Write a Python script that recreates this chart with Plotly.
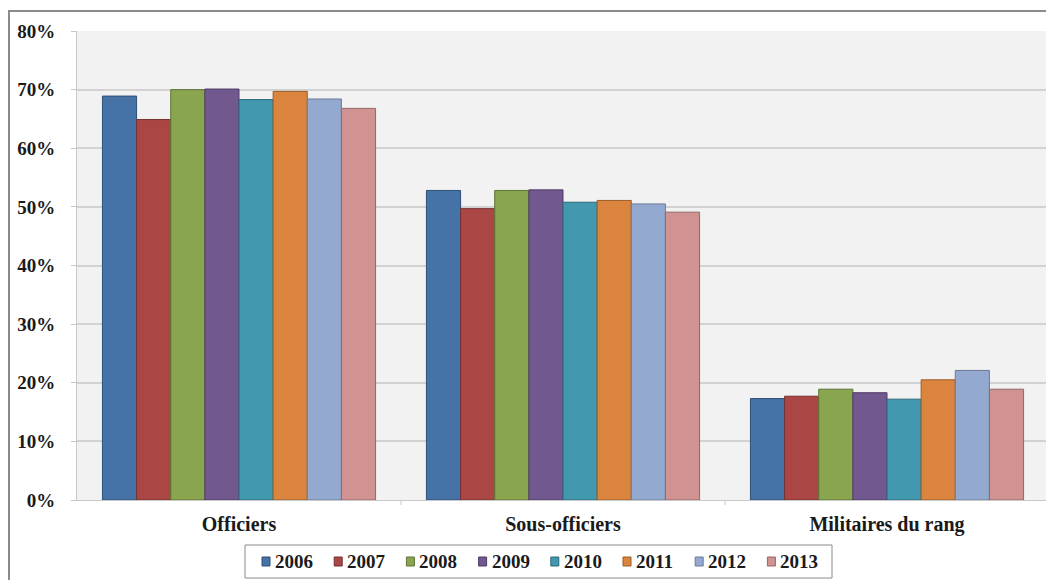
import plotly.graph_objects as go

categories = ["Officiers", "Sous-officiers", "Militaires du rang"]
years = ["2006", "2007", "2008", "2009", "2010", "2011", "2012", "2013"]
v2006 = [68.9, 52.8, 17.3]
v2007 = [64.9, 49.7, 17.7]
v2008 = [70.0, 52.8, 18.9]
v2009 = [70.1, 52.9, 18.3]
v2010 = [68.3, 50.8, 17.2]
v2011 = [69.7, 51.1, 20.5]
v2012 = [68.4, 50.5, 22.1]
v2013 = [66.8, 49.1, 18.9]
series = [v2006, v2007, v2008, v2009, v2010, v2011, v2012, v2013]
y_ticks = [0, 10, 20, 30, 40, 50, 60, 70, 80]
y_tick_labels = ["0%", "10%", "20%", "30%", "40%", "50%", "60%", "70%", "80%"]

colors = ["#4572a7", "#aa4643", "#89a54e", "#71588f", "#4198af", "#db843d", "#93a9cf", "#d19392"]
edges = ["#2f4f75", "#763130", "#5f7336", "#4f3d64", "#2d6a7a", "#995c2a", "#6a7a99", "#936766"]

FONT = "Liberation Serif, Times New Roman, serif"
TXT = "#1a1a1a"

# page geometry (the page body adds an 8px offset)
PLOT_L, PLOT_R, PLOT_T, PLOT_B = 77, 1049, 31, 500
PW, PH = PLOT_R - PLOT_L, PLOT_B - PLOT_T


def px(x):
    return (x - PLOT_L) / PW


def py(y):
    return (PLOT_B - y) / PH


fig = go.Figure()
for yr, vals, c, e in zip(years, series, colors, edges):
    fig.add_trace(go.Bar(
        name=yr, x=categories, y=vals,
        marker=dict(color=c, line=dict(color=e, width=1)),
        showlegend=False,
    ))

shapes = [
    dict(type="rect", xref="paper", yref="paper",
         x0=px(9), x1=px(1070), y0=py(600), y1=py(11),
         line=dict(color="#8a8a8a", width=2), layer="below"),
    dict(type="line", xref="x", yref="paper", x0=0.5, x1=0.5, y0=0, y1=py(505),
         line=dict(color="#c8c8c8", width=1)),
    dict(type="line", xref="x", yref="paper", x0=1.5, x1=1.5, y0=0, y1=py(505),
         line=dict(color="#c8c8c8", width=1)),
    # legend box
    dict(type="rect", xref="paper", yref="paper",
         x0=px(245), x1=px(832), y0=py(578), y1=py(545),
         line=dict(color="#8a8a8a", width=1), fillcolor="white"),
]
annotations = []
STEP = 72.2
for i, (yr, c, e) in enumerate(zip(years, colors, edges)):
    sx = 262 + STEP * i
    shapes.append(dict(type="rect", xref="paper", yref="paper",
                       x0=px(sx), x1=px(sx + 8), y0=py(566), y1=py(557),
                       line=dict(color=e, width=1), fillcolor=c))
    annotations.append(dict(xref="paper", yref="paper", x=px(sx + 11), y=py(561),
                            xanchor="left", yanchor="middle", showarrow=False,
                            text=yr,
                            font=dict(family=FONT, size=19, color=TXT, weight="bold")))

fig.update_layout(
    width=1046, height=572,
    margin=dict(l=69, r=5, t=23, b=80),
    paper_bgcolor="white",
    plot_bgcolor="#f2f2f2",
    barmode="group",
    bargap=0.157,
    bargroupgap=0,
    showlegend=False,
    font=dict(family=FONT, size=20, color=TXT, weight="bold"),
    xaxis=dict(
        showgrid=False, showline=True, linecolor="#c8c8c8", linewidth=1,
        ticks="", tickfont=dict(family=FONT, size=20, color=TXT, weight="bold"),
        ticklabelstandoff=6,
    ),
    yaxis=dict(
        range=[0, 80], tickvals=y_ticks, ticktext=y_tick_labels,
        showgrid=True, gridcolor="#d2d2d2", gridwidth=2,
        showline=True, linecolor="#c8c8c8", linewidth=1,
        ticks="outside", ticklen=5, tickcolor="#c8c8c8",
        tickfont=dict(family=FONT, size=19, color=TXT, weight="bold"),
        zeroline=False, ticklabelstandoff=12,
    ),
    shapes=shapes,
    annotations=annotations,
)

fig.write_html("out.html")
